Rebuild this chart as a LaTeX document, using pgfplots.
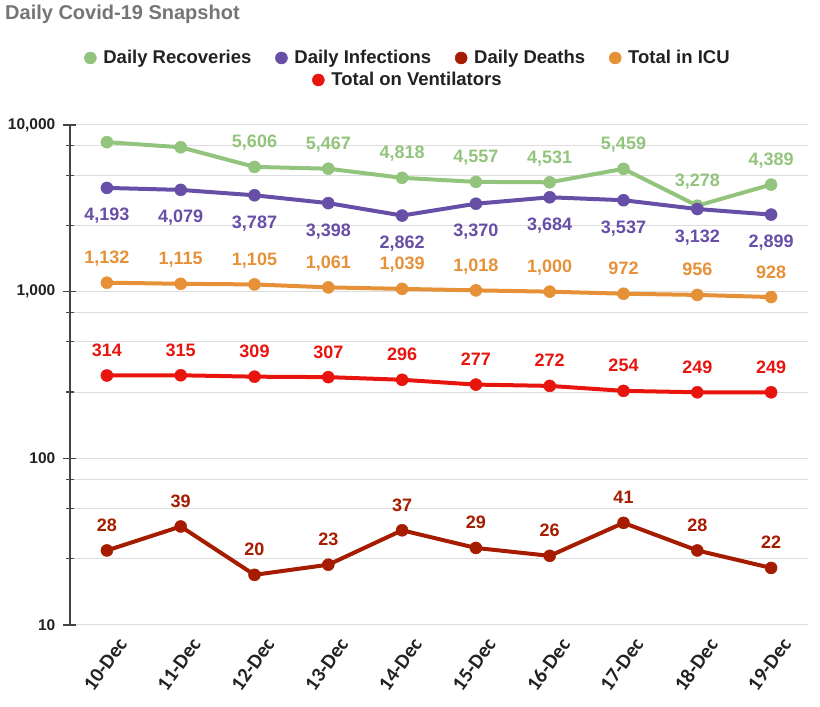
\documentclass[border=0pt]{standalone}
\usepackage{fontspec}
\setmainfont{Liberation Sans}
\newfontfamily\carlito{Carlito}
\usepackage{pgfplots}
\usepackage{pgfplotstable}
\pgfplotsset{compat=1.18}

\definecolor{cRec}{HTML}{93C47D}
\definecolor{cInf}{HTML}{674EA7}
\definecolor{cDea}{HTML}{A61C00}
\definecolor{cIcu}{HTML}{E69138}
\definecolor{cVen}{HTML}{E8150F}
\definecolor{cGrid}{HTML}{DDDDDD}
\definecolor{cAxis}{HTML}{444444}
\definecolor{cTitle}{HTML}{757575}
\definecolor{cText}{HTML}{222222}

\pgfplotstableread{
x y lab
0 7893 {}
1 7351 {}
2 5606 5,606
3 5467 5,467
4 4818 4,818
5 4557 4,557
6 4531 4,531
7 5459 5,459
8 3278 3,278
9 4389 4,389
}\recov
\pgfplotstableread{
x y lab
0 4193 4,193
1 4079 4,079
2 3787 3,787
3 3398 3,398
4 2862 2,862
5 3370 3,370
6 3684 3,684
7 3537 3,537
8 3132 3,132
9 2899 2,899
}\infec
\pgfplotstableread{
x y lab
0 28 28
1 39 39
2 20 20
3 23 23
4 37 37
5 29 29
6 26 26
7 41 41
8 28 28
9 22 22
}\deaths
\pgfplotstableread{
x y lab
0 1132 1,132
1 1115 1,115
2 1105 1,105
3 1061 1,061
4 1039 1,039
5 1018 1,018
6 1000 1,000
7 972 972
8 956 956
9 928 928
}\icu
\pgfplotstableread{
x y lab
0 314 314
1 315 315
2 309 309
3 307 307
4 296 296
5 277 277
6 272 272
7 254 254
8 249 249
9 249 249
}\vent

\pgfplotsset{
  myleg/.style={
    legend style={draw=none, fill=none, anchor=center,
      font=\fontsize{18.5}{20}\selectfont\bfseries, text=cText,
      /tikz/every odd column/.append style={column sep=5pt},
      /tikz/every even column/.append style={column sep=22pt}},
    legend image code/.code={\draw[##1] plot coordinates {(0pt,0pt)};},
  }
}

\begin{document}
\begin{tikzpicture}
\path[use as bounding box] (-70pt,-82pt) rectangle (750pt,625pt);
\node[anchor=base west, inner sep=0pt, text=cTitle, font=\fontsize{20}{22}\selectfont\bfseries] at (-65pt,605pt) {Daily Covid-19 Snapshot};
\begin{axis}[
  at={(0pt,0pt)}, anchor=south west,
  width=738pt, height=500pt, scale only axis,
  ymode=log, ymin=10, ymax=10000, xmin=-0.5, xmax=9.5,
  xtick={0,...,9},
  xticklabels={10-Dec,11-Dec,12-Dec,13-Dec,14-Dec,15-Dec,16-Dec,17-Dec,18-Dec,19-Dec},
  ytick={10,100,1000,10000}, yticklabels={10,100,{1,000},{10,000}},
  minor ytick={25,50,75,250,500,750,2500,5000,7500},
  ymajorgrids, yminorgrids,
  major grid style={cGrid, line width=1pt},
  minor grid style={cGrid, line width=1pt},
  axis lines=left, axis line style={-, cAxis, line width=1.2pt},
  x axis line style={draw=none},
  xtick style={draw=none},
  ytick style={cAxis, line width=1.2pt},
  tick align=center,
  major tick length=13pt, minor tick length=8pt,
  yticklabel style={font=\fontsize{15.5}{17}\selectfont\bfseries, text=cText, inner sep=0pt, xshift=-8pt},
  xticklabel style={font=\carlito\fontsize{20.5}{22}\selectfont\bfseries, text=cText, rotate=54, anchor=north east, inner sep=0pt, yshift=-11pt, xshift=2pt},
  every axis plot/.append style={line width=4pt, mark=*, mark size=6pt, mark options={solid, line width=0.5pt}},
  point meta=explicit symbolic,
  nodes near coords,
  every node near coord/.style={font=\fontsize{18}{20}\selectfont\bfseries, anchor=base, yshift=19pt, inner sep=0pt},
  myleg,
  legend columns=4,
  legend style={at={(0.458,1.134)}},
  clip=false,
]
\addplot[cRec, nodes near coords style={text=cRec}] table[x=x,y=y,meta=lab] {\recov};
\addlegendentry{Daily Recoveries}
\addplot[cInf, nodes near coords style={text=cInf, yshift=-52pt}] table[x=x,y=y,meta=lab] {\infec};
\addlegendentry{Daily Infections}
\addplot[cDea, nodes near coords style={text=cDea}] table[x=x,y=y,meta=lab] {\deaths};
\addlegendentry{Daily Deaths}
\addplot[cIcu, nodes near coords style={text=cIcu}] table[x=x,y=y,meta=lab] {\icu};
\addlegendentry{Total in ICU}
\addplot[cVen, forget plot, nodes near coords style={text=cVen}] table[x=x,y=y,meta=lab] {\vent};
\end{axis}
\begin{axis}[
  at={(0pt,0pt)}, anchor=south west,
  width=738pt, height=500pt, scale only axis,
  hide axis, xmin=0, xmax=1, ymin=0, ymax=1,
  myleg,
  legend style={at={(0.458,1.09)}},
]
\addlegendimage{cVen, line width=4pt, mark=*, mark size=6pt, mark options={solid, line width=0.5pt}}
\addlegendentry{Total on Ventilators}
\end{axis}
\end{tikzpicture}
\end{document}
